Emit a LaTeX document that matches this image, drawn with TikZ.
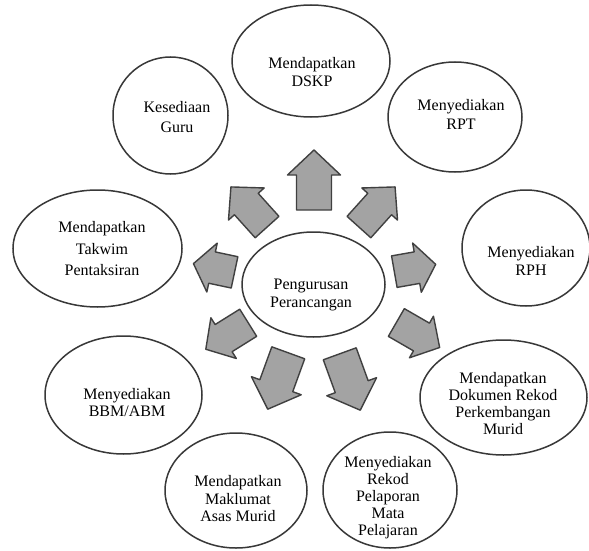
\documentclass[tikz,border=0pt]{standalone}
\usepackage{fontspec}
\setmainfont{Liberation Serif}
\tikzset{
  bub/.style={draw=black!78, line width=1.5pt, ellipse, inner sep=0pt},
  txt/.style={align=center, inner sep=0pt, font=\fontsize{16}{#1}\selectfont},
  barrow/.style={draw=black!75, line width=1.4pt, fill=black!36, line join=round},
}
\usetikzlibrary{shapes.geometric}
% x y angle length headlength headhalfwidth shafthalfwidth
\newcommand\blockarrow[7]{%
  \draw[barrow, shift={(#1,#2)}, rotate=#3]
    (-#4/2,-#7) -- (#4/2-#5,-#7) -- (#4/2-#5,-#6) -- (#4/2,0)
    -- (#4/2-#5,#6) -- (#4/2-#5,#7) -- (-#4/2,#7) -- cycle;}
\begin{document}
\begin{tikzpicture}[x=1pt,y=-1pt]
\path[use as bounding box, fill=white] (0,0) rectangle (589,551);

% ellipses
\node[bub, minimum width=143pt, minimum height=105pt] (c)   at (313.5,284.5) {};
\node[bub, minimum width=158pt, minimum height=112pt] (e1)  at (311,61) {};
\node[bub, minimum width=115pt, minimum height=117pt] (e2)  at (170.5,115.5) {};
\node[bub, minimum width=134pt, minimum height=110pt] (e3)  at (455,117) {};
\node[bub, minimum width=169pt, minimum height=117pt] (e4)  at (97.5,248.5) {};
\node[bub, minimum width=128pt, minimum height=116pt] (e5)  at (526,248) {};
\node[bub, minimum width=157pt, minimum height=118pt] (e6)  at (123.5,395) {};
\node[bub, minimum width=167pt, minimum height=115pt] (e7)  at (503.5,397.5) {};
\node[bub, minimum width=142pt, minimum height=115pt] (e8)  at (236,490.5) {};
\node[bub, minimum width=134pt, minimum height=116pt] (e9)  at (390,490) {};

% texts
\node[txt=18]   (tc) at (311,295) {Pengurusan\\Perancangan};
\node[txt=18]   (t1) at (312,72)  {Mendapatkan\\DSKP};
\node[txt=20]   (t2) at (177,117) {Kesediaan\\Guru};
\node[txt=19]   (t3) at (461,114) {Menyediakan\\RPT};
\node[txt=21.5] (t4) at (102,249) {Mendapatkan\\Takwim\\Pentaksiran};
\node[txt=18]   (t5) at (531,261) {Menyediakan\\RPH};
\node[txt=17]   (t6) at (127,403) {Menyediakan\\BBM/ABM};
\node[txt=17]   (t7) at (503,404) {Mendapatkan\\Dokumen Rekod\\Perkembangan\\Murid};
\node[txt=17.5] (t8) at (238,499) {Mendapatkan\\Maklumat\\Asas Murid};
\node[txt=17]   (t9) at (388,498) {Menyediakan\\Rekod\\Pelaporan\\Mata\\Pelajaran};

% block arrows
\blockarrow{314}{180}{90}{60}{25}{26.5}{17.5}
\blockarrow{377}{207}{48}{54}{23}{24}{16}
\blockarrow{249}{207}{132}{54}{23}{24}{16}
\blockarrow{214}{268}{168}{42}{19}{25}{16}
\blockarrow{415}{268}{10}{42}{19}{25}{16}
\blockarrow{227}{336}{212}{50}{21}{24}{16}
\blockarrow{278}{381}{250}{60}{25}{26.5}{17.5}
\blockarrow{350}{382}{290}{60}{25}{26.5}{17.5}
\blockarrow{418}{335}{330}{50}{21}{24}{16}
\end{tikzpicture}
\end{document}
